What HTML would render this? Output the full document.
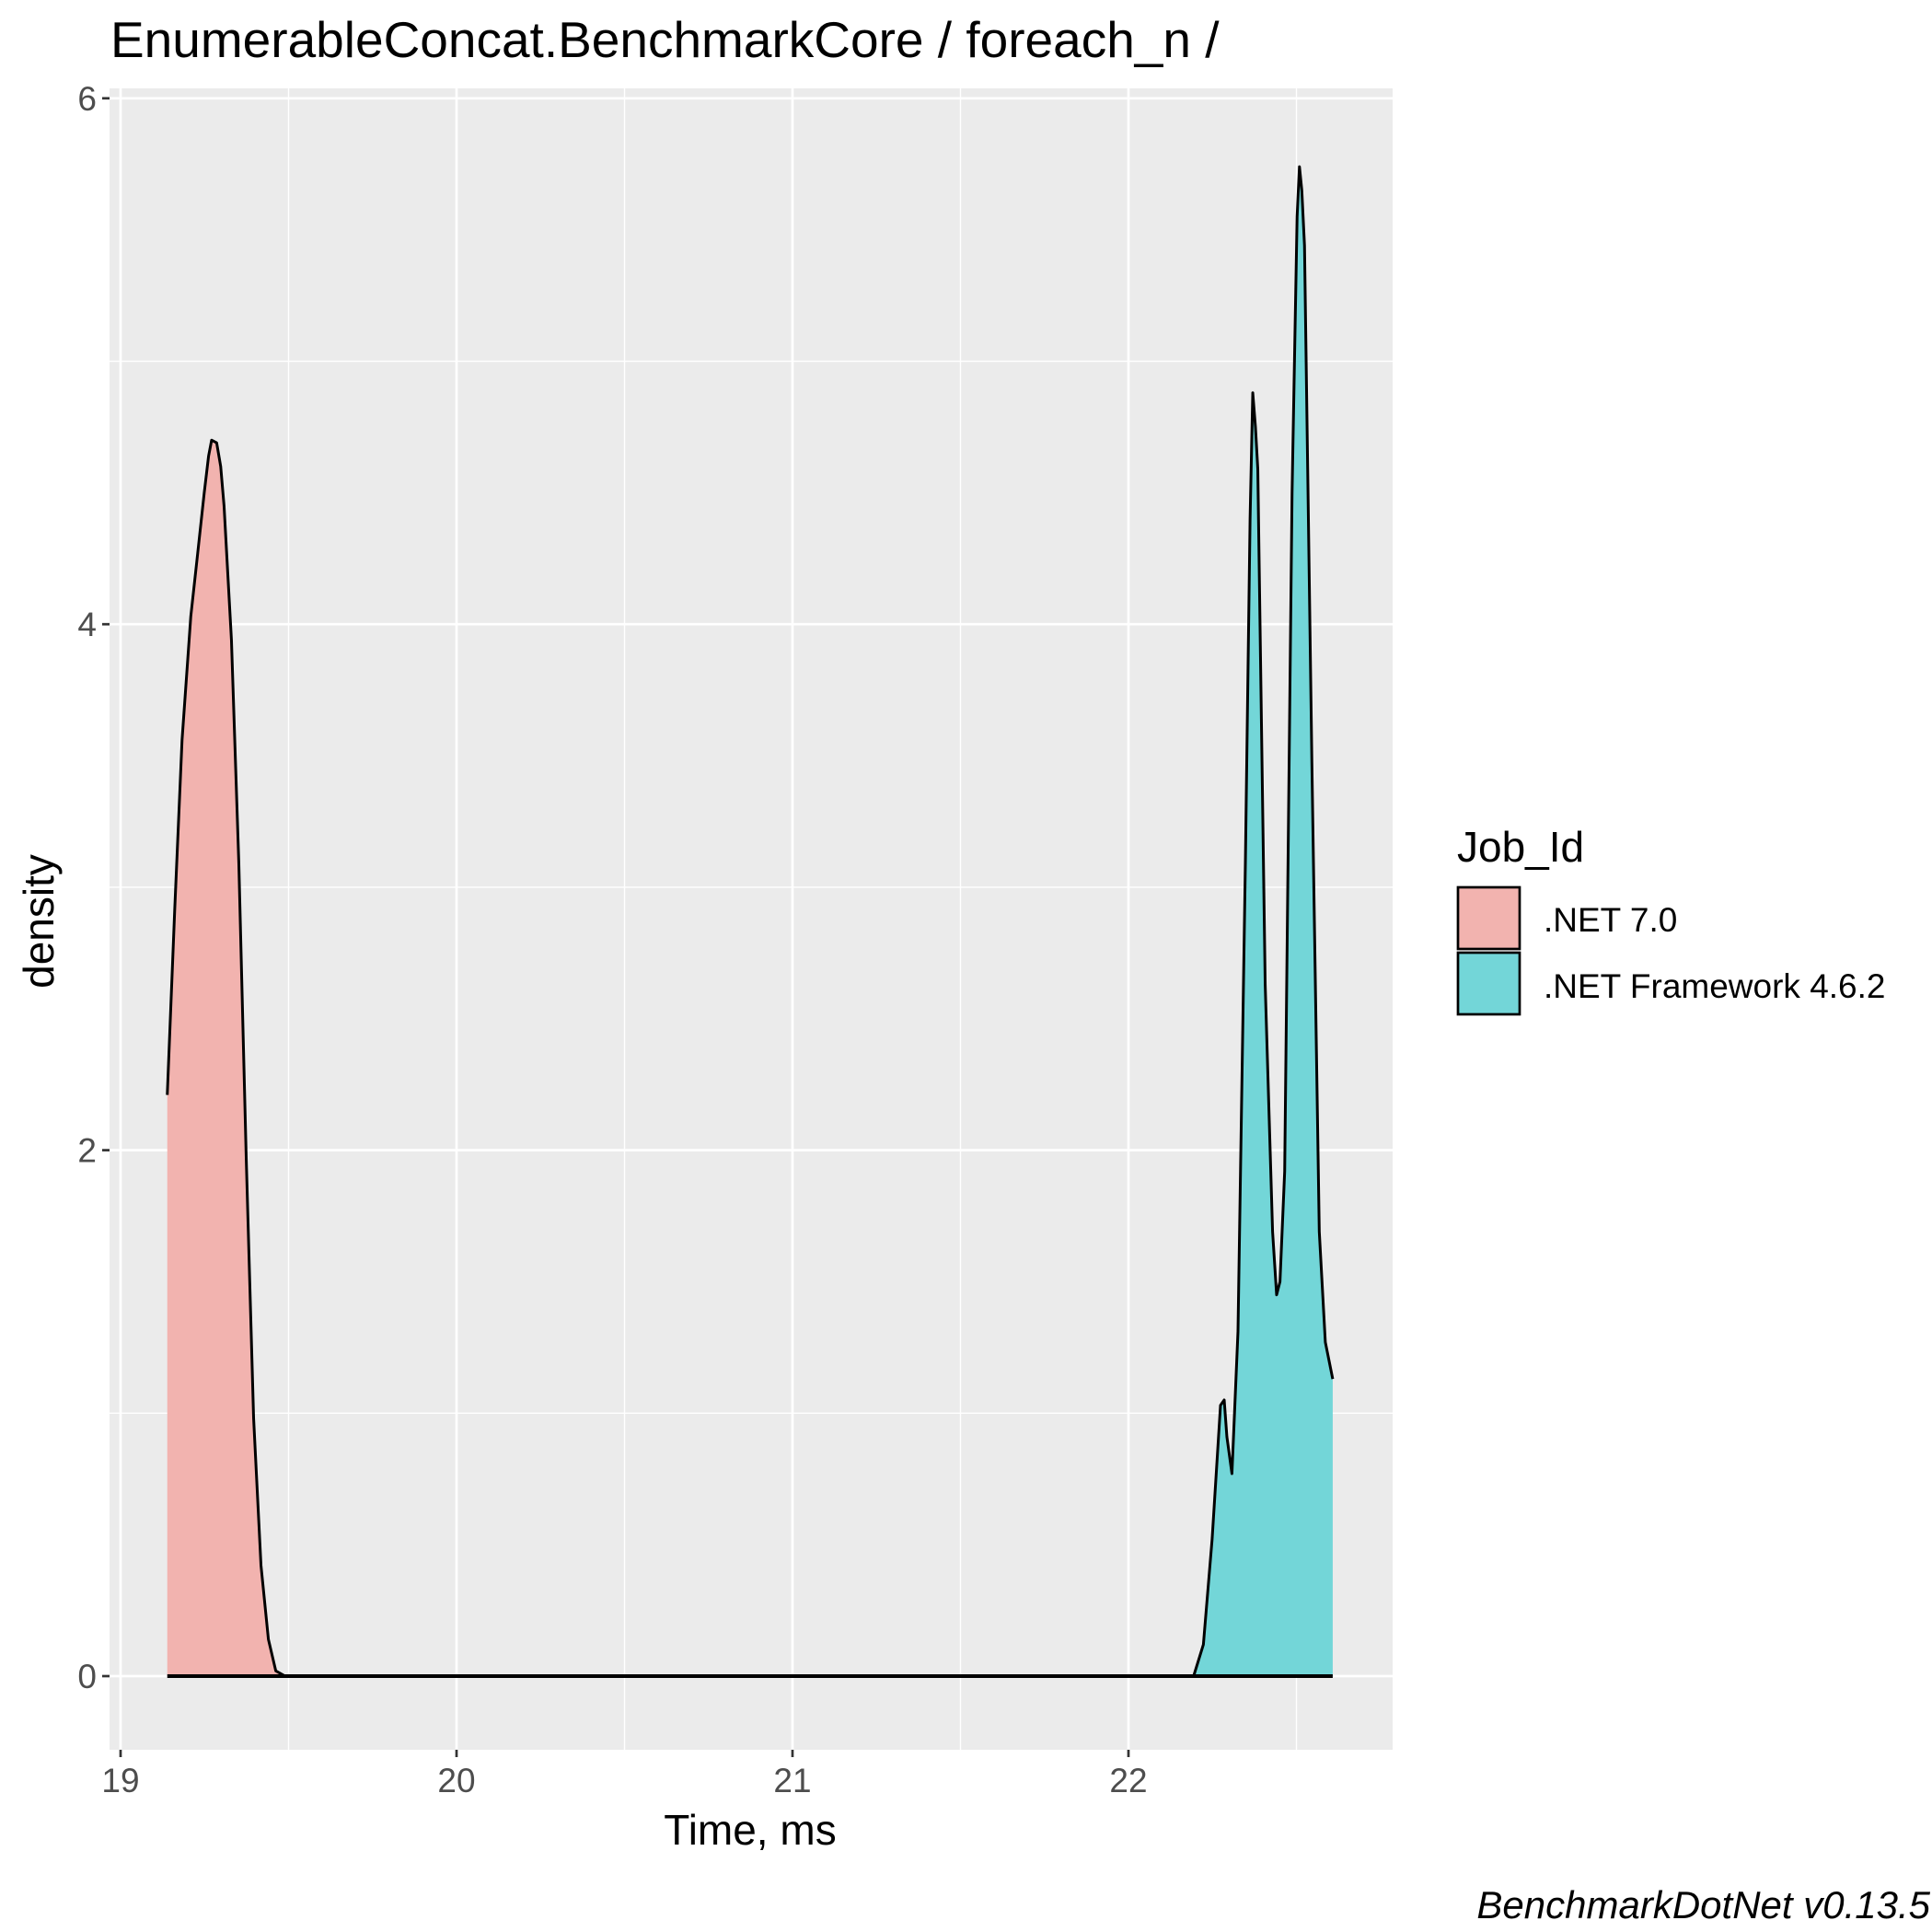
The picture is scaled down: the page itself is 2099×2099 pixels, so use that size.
<!DOCTYPE html>
<html><head><meta charset="utf-8">
<style>html,body{margin:0;padding:0;background:#fff}svg{display:block;font-family:"Liberation Sans",Arial,sans-serif}</style>
</head><body>
<svg id="chart" width="2099" height="2099" viewBox="0 0 2099 2099" xmlns="http://www.w3.org/2000/svg">
<text x="120" y="62" font-size="55" fill="#000">EnumerableConcat.BenchmarkCore / foreach_n /</text>
<rect x="119" y="96" width="1394" height="1805" fill="#EBEBEB"/>
<g id="grid"></g>
<g id="marks"></g>
<g id="axes"></g>
<text x="815" y="2004" font-size="46" text-anchor="middle">Time, ms</text>
<text transform="translate(58,1001) rotate(-90)" font-size="46" text-anchor="middle">density</text>
<g>
<text x="1583" y="936" font-size="46">Job_Id</text>
<rect x="1584" y="964" width="67" height="67" fill="#F2B3AF" stroke="#000" stroke-width="2.7"/>
<text x="1677" y="1012" font-size="37">.NET 7.0</text>
<rect x="1584" y="1035" width="67" height="67" fill="#73D6D8" stroke="#000" stroke-width="2.7"/>
<text x="1677" y="1084" font-size="37">.NET Framework 4.6.2</text>
</g>
<text x="2097" y="2084" font-size="42" font-style="italic" text-anchor="end">BenchmarkDotNet v0.13.5</text>
</svg>
<script>
const xTicks = [19, 20, 21, 22];
const yTicks = [0, 2, 4, 6];
const xMinor = [19.5, 20.5, 21.5, 22.5];
const yMinor = [1, 3, 5];
const net70Time = [19.139,19.161,19.183,19.209,19.227,19.249,19.262,19.271,19.286,19.298,19.308,19.33,19.352,19.374,19.396,19.418,19.44,19.462,19.49];
const net70Density = [2.21,2.91,3.56,4.03,4.24,4.5,4.64,4.70,4.69,4.6,4.45,3.94,3.09,1.97,0.98,0.42,0.14,0.02,0];
const fxTime = [22.194,22.223,22.249,22.274,22.285,22.293,22.308,22.326,22.348,22.362,22.37,22.378,22.385,22.407,22.429,22.441,22.451,22.465,22.487,22.502,22.509,22.516,22.524,22.546,22.568,22.586,22.608];
const fxDensity = [0,0.12,0.52,1.03,1.05,0.91,0.77,1.31,3.09,4.4,4.88,4.75,4.59,2.63,1.69,1.45,1.5,1.92,4.5,5.55,5.74,5.65,5.44,3.47,1.69,1.27,1.13];

const NS = 'http://www.w3.org/2000/svg';
const X0 = 119, X1 = 1513, Y0 = 96, Y1 = 1901;
function sx(t){ return 131 + (t - 19) * 365; }
function sy(d){ return 1821 - d * 285.7; }
function mk(tag, attrs, parent){
  const e = document.createElementNS(NS, tag);
  for (const k in attrs) e.setAttribute(k, attrs[k]);
  parent.appendChild(e); return e;
}
const grid = document.getElementById('grid');
yMinor.forEach(v => { const l = mk('line',{x1:X0,x2:X1,y1:sy(v),y2:sy(v),stroke:'#fff','stroke-width':1.4},grid);
  
   });
xMinor.forEach(v => { const l = mk('line',{x1:sx(v),x2:sx(v),y1:Y0,y2:Y1,stroke:'#fff','stroke-width':1.4},grid);
  
   });
yTicks.forEach(v => { const l = mk('line',{x1:X0,x2:X1,y1:sy(v),y2:sy(v),stroke:'#fff','stroke-width':2.7},grid);
  
   });
xTicks.forEach(v => { const l = mk('line',{x1:sx(v),x2:sx(v),y1:Y0,y2:Y1,stroke:'#fff','stroke-width':2.7},grid);
  
   });

const marks = document.getElementById('marks');
function area(ts, ds, fill, name){
  let d = 'M' + sx(ts[0]) + ',' + sy(0);
  ts.forEach((t,i) => { d += ' L' + sx(t) + ',' + sy(ds[i]); });
  d += ' L' + sx(ts[ts.length-1]) + ',' + sy(0) + ' Z';
  const a = mk('path',{d:d,fill:fill,stroke:'none'},marks);
  
  
  let ld = '';
  ts.forEach((t,i) => { ld += (i ? ' L' : 'M') + sx(t) + ',' + sy(ds[i]); });
  const l = mk('path',{d:ld,fill:'none',stroke:'#000','stroke-width':3,'stroke-linejoin':'round'},marks);
  
  
}
area(net70Time, net70Density, '#F2B3AF', 'net70-density');
area(fxTime, fxDensity, '#73D6D8', 'netfx462-density');
const base = mk('line',{x1:sx(net70Time[0]),x2:sx(fxTime[fxTime.length-1]),y1:sy(0),y2:sy(0),stroke:'#000','stroke-width':4},marks);



const axes = document.getElementById('axes');
yTicks.forEach(v => {
  const t = mk('line',{x1:X0-8,x2:X0,y1:sy(v),y2:sy(v),stroke:'#333','stroke-width':2.7},axes);
  
  
  const tx = mk('text',{x:X0-14,y:sy(v)+13,'font-size':37,fill:'#4D4D4D','text-anchor':'end'},axes);
  tx.textContent = v;
  
  
});
xTicks.forEach(v => {
  const t = mk('line',{x1:sx(v),x2:sx(v),y1:Y1,y2:Y1+8,stroke:'#333','stroke-width':2.7},axes);
  
  
  const tx = mk('text',{x:sx(v),y:Y1+46,'font-size':37,fill:'#4D4D4D','text-anchor':'middle'},axes);
  tx.textContent = v;
  
  
});
</script>
</body></html>
